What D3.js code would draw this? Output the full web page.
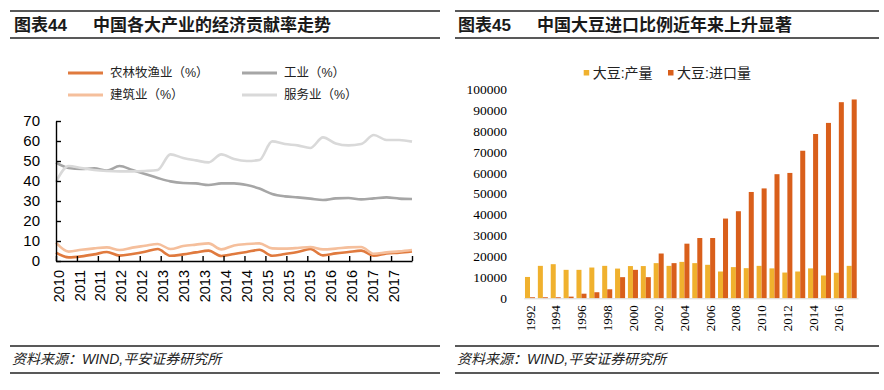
<!DOCTYPE html>
<html>
<head>
<meta charset="utf-8">
<script src="https://cdn.jsdelivr.net/npm/d3@7"></script>
<style>
  body { margin: 0; background: #fff; }
  svg { display: block; }
</style>
</head>
<body>
<svg width="884" height="390"></svg>
<script>
// ---- Dados: gráfico 44 (trimestral)
const quarterLabels = ['2010', '2011', '2011', '2012', '2012', '2013', '2013', '2013', '2014',
    '2014', '2015', '2015', '2015', '2016', '2016', '2017', '2017', ''];
const agriculture = [4.2, 1.8, 2.3, 3.3, 4.5, 2.7, 3.5, 4.6, 6.0, 2.6, 3.3, 4.3, 5.2, 2.5, 3.5,
    4.5, 5.6, 2.6, 3.5, 4.5, 6.0, 2.8, 3.8, 4.5, 5.2, 2.6, 3.8, 4.2, 4.8];
const industry = [49.2, 46.5, 46.0, 46.3, 45.2, 47.5, 45.5, 43.5, 41.5, 39.8, 39.0, 38.8, 38.0,
    38.8, 38.8, 38.0, 36.2, 33.5, 32.3, 31.8, 31.2, 30.5, 31.3, 31.5, 30.8, 31.3, 31.8, 31.2, 31.0];
const construction = [9.2, 4.7, 5.6, 6.3, 6.8, 5.5, 6.7, 7.6, 8.5, 6.0, 7.5, 8.2, 8.8, 5.8, 7.8,
    8.5, 8.8, 6.3, 6.2, 6.5, 7.0, 5.8, 6.2, 6.8, 7.0, 3.6, 4.3, 4.8, 5.5];
const services = [39.5, 47.5, 46.5, 45.5, 45.0, 44.8, 44.8, 45.0, 45.5, 53.3, 51.5, 50.3, 49.3,
    53.3, 51.0, 50.0, 50.5, 59.8, 58.5, 57.8, 56.5, 61.8, 58.8, 57.8, 58.5, 63.0, 60.5, 60.5, 59.7];
const sectorNames = ['农林牧渔业（%）', '工业（%）', '建筑业（%）', '服务业（%）'];

// ---- Dados: gráfico 45 (anual)
const years = ['1992', '1993', '1994', '1995', '1996', '1997', '1998', '1999', '2000', '2001',
    '2002', '2003', '2004', '2005', '2006', '2007', '2008', '2009', '2010', '2011', '2012',
    '2013', '2014', '2015', '2016', '2017'];
const soyOutput = [10200, 15500, 16300, 13600, 13600, 14700, 15500, 14200, 15400, 15400, 16800,
    15500, 17400, 16800, 16000, 12800, 14900, 14400, 15500, 14300, 12300, 12800, 14300, 10900,
    12200, 15500];
const soyImport = [500, 500, 500, 800, 2200, 2900, 4300, 10100, 13600, 10100, 21400, 16800,
    26100, 28800, 28800, 38100, 41600, 50800, 52500, 59300, 59900, 70500, 78500, 83800, 93700,
    95000];
const soyNames = ['大豆:产量', '大豆:进口量'];

const sans = '"Liberation Sans", Arial, "Noto Sans CJK SC", sans-serif';
const serif = '"Liberation Serif", "Times New Roman", "Noto Sans CJK SC", serif';

const svg = d3.select('svg');

// ---- Cabeçalhos e rodapés
const panels = [
    { x1: 10, x2: 440, tx: 14, tag: '图表44', title: '中国各大产业的经济贡献率走势' },
    { x1: 455, x2: 879, tx: 458, tag: '图表45', title: '中国大豆进口比例近年来上升显著' }
];

panels.forEach(p => {
    [11, 38, 346, 373].forEach(y => {
        svg.append('line')
            .attr('x1', p.x1).attr('x2', p.x2)
            .attr('y1', y).attr('y2', y)
            .attr('stroke', '#595959')
            .attr('stroke-width', 1.8);
    });
    svg.append('text')
        .attr('x', p.tx).attr('y', 31)
        .attr('font-family', sans).attr('font-size', '17px').attr('font-weight', '700')
        .attr('fill', '#1a1a1a')
        .text(p.tag);
    svg.append('text')
        .attr('x', p.tx + 79).attr('y', 31)
        .attr('font-family', sans).attr('font-size', '17px').attr('font-weight', '700')
        .attr('fill', '#1a1a1a')
        .text(p.title);
    svg.append('text')
        .attr('x', p.x1 + 2).attr('y', 364)
        .attr('font-family', sans).attr('font-size', '14px').attr('font-style', 'italic')
        .attr('fill', '#222')
        .text('资料来源：WIND,平安证券研究所');
});

// ---- Gráfico 44: linhas
const lineColors = ['#e07a3e', '#a6a6a6', '#f5bf9c', '#d9d9d9'];
const series = [agriculture, industry, construction, services];

const xIdx = d3.scaleLinear().domain([0, agriculture.length - 1]).range([56, 412]);
const xTick = d3.scalePoint().domain(d3.range(quarterLabels.length)).range([56, 412]);
const yPct = d3.scaleLinear().domain([0, 70]).range([261, 121]);

const line = d3.line()
    .x((d, i) => xIdx(i))
    .y(d => yPct(d))
    .curve(d3.curveMonotoneX);

svg.append('g')
    .selectAll('path')
    .data(series)
    .join('path')
    .attr('d', d => line(d))
    .attr('fill', 'none')
    .attr('stroke', (d, i) => lineColors[i])
    .attr('stroke-width', 2.6)
    .attr('stroke-linejoin', 'round');

const axisX = svg.append('g')
    .attr('transform', `translate(0, ${yPct(0)})`)
    .call(d3.axisBottom(xTick).tickSizeInner(-5).tickSizeOuter(0).tickFormat(i => quarterLabels[i]));
axisX.select('.domain').attr('stroke', '#000').attr('stroke-width', 1.4);
axisX.selectAll('.tick line').attr('stroke', '#000').attr('stroke-width', 1.4);
axisX.selectAll('.tick text')
    .attr('transform', 'rotate(-90)')
    .attr('x', -9).attr('y', 2).attr('dy', '0.35em')
    .attr('text-anchor', 'end')
    .attr('font-family', sans).attr('font-size', '14.5px').attr('fill', '#000');

const axisY = svg.append('g')
    .attr('transform', 'translate(56, 0)')
    .call(d3.axisLeft(yPct).tickValues(d3.range(0, 71, 10)).tickSizeInner(-5).tickSizeOuter(0).tickPadding(16));
axisY.select('.domain').attr('stroke', '#000').attr('stroke-width', 1.4);
axisY.selectAll('.tick line').attr('stroke', '#000').attr('stroke-width', 1.4);
axisY.selectAll('.tick text')
    .attr('font-family', sans).attr('font-size', '15px').attr('fill', '#000');

// legenda do gráfico 44
const legend44 = svg.append('g')
    .selectAll('g')
    .data(sectorNames)
    .join('g')
    .attr('transform', (d, i) => `translate(${i % 2 ? 242 : 68}, ${Math.floor(i / 2) ? 95 : 73})`);
legend44.append('line')
    .attr('x1', 0).attr('x2', 35)
    .attr('stroke', (d, i) => lineColors[i])
    .attr('stroke-width', 3);
legend44.append('text')
    .attr('x', 42).attr('dy', '0.35em')
    .attr('font-family', sans).attr('font-size', '12.5px').attr('fill', '#222')
    .text(d => d);

// ---- Gráfico 45: barras
const barColors = ['#f0b12e', '#d95f1b'];

const x0 = d3.scaleBand().domain(years).range([523.7, 858]).paddingInner(0.22).paddingOuter(0.1);
const x1 = d3.scaleBand().domain([0, 1]).range([0, x0.bandwidth()]);
const yTon = d3.scaleLinear().domain([0, 100000]).range([298.3, 89]);

const groups = svg.append('g')
    .selectAll('g')
    .data(years)
    .join('g')
    .attr('transform', d => `translate(${x0(d)}, 0)`);

groups.selectAll('rect')
    .data((d, i) => [soyOutput[i], soyImport[i]])
    .join('rect')
    .attr('x', (d, j) => x1(j))
    .attr('width', x1.bandwidth())
    .attr('y', d => yTon(d))
    .attr('height', d => yTon(0) - yTon(d))
    .attr('fill', (d, j) => barColors[j]);

const axisBar = svg.append('g')
    .attr('transform', `translate(0, ${yTon(0)})`)
    .call(d3.axisBottom(x0).tickValues(years.filter((d, i) => i % 2 === 0)).tickSize(0).tickSizeOuter(0));
axisBar.select('.domain').attr('stroke', '#d9d9d9').attr('stroke-width', 1);
axisBar.selectAll('.tick text')
    .attr('transform', 'rotate(-90)')
    .attr('x', -7).attr('y', 0).attr('dy', '0.35em')
    .attr('text-anchor', 'end')
    .attr('font-family', serif).attr('font-size', '13px').attr('fill', '#000');

const axisTon = svg.append('g')
    .attr('transform', 'translate(507, 0)')
    .call(d3.axisLeft(yTon).tickValues(d3.range(0, 100001, 10000)).tickFormat(d3.format('d'))
        .tickSize(0).tickPadding(0));
axisTon.select('.domain').remove();
axisTon.selectAll('.tick text')
    .attr('font-family', serif).attr('font-size', '13.5px').attr('fill', '#000');

// legenda do gráfico 45
const legend45 = svg.append('g')
    .selectAll('g')
    .data(soyNames)
    .join('g')
    .attr('transform', (d, i) => `translate(${i ? 668 : 583.7}, 73)`);
legend45.append('rect')
    .attr('x', 0).attr('y', -3).attr('width', 5.5).attr('height', 5.5)
    .attr('fill', (d, i) => barColors[i]);
legend45.append('text')
    .attr('x', 9).attr('dy', '0.35em')
    .attr('font-family', sans).attr('font-size', '14px').attr('fill', '#222')
    .text(d => d);
</script>
</body>
</html>
